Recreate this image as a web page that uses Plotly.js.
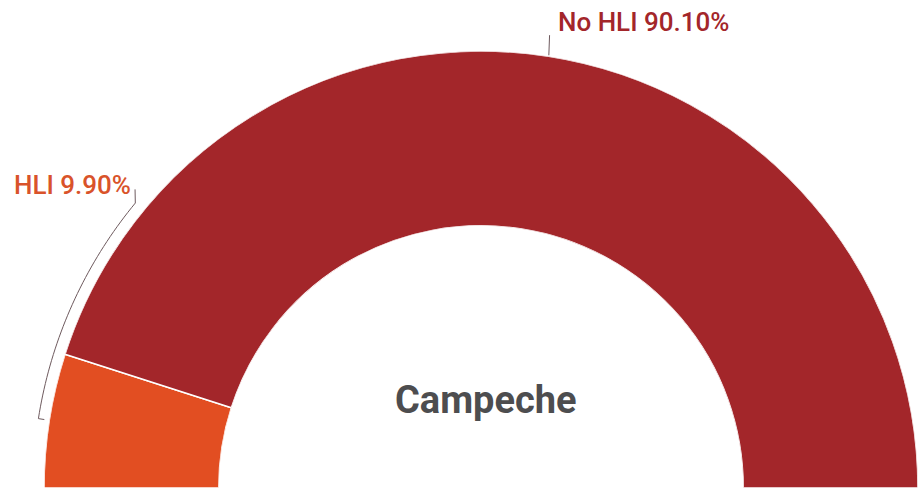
<!DOCTYPE html>
<html>
<head>
<meta charset="utf-8">
<script src="https://cdn.plot.ly/plotly-3.0.1.min.js"></script>
<style>html,body{margin:0;padding:0;background:#fff;}#chart{width:918px;height:490px;}</style>
</head>
<body>
<div id="chart"></div>
<script>
// ---- data ----
const labels = ['HLI', 'No HLI'];
const values = [9.9, 90.1];
const labelTexts = ['HLI 9.90%', 'No HLI 90.10%'];
const centerTitle = 'Campeche';

// ---- styles ----
const colors = ['#E24E22', '#A3262A'];
const labelColors = ['#D9532A', '#A3262A'];
const lineColor = '#6e5a5e';
const W = 918, H = 490;
const R = 437, CX = 44 + R, CY = 488; // pixel geometry of the polar domain

const total = values.reduce((a, b) => a + b, 0);
const spans = values.map(v => v / total * 180);
const centers = [];
let acc = 0;
spans.forEach(s => { centers.push(acc + s / 2); acc += s; });

const traces = [{
  type: 'barpolar',
  r: values.map(() => 1),
  theta: centers,
  width: spans,
  text: labels,
  marker: { color: colors, line: { color: '#ffffff', width: 1.5 } },
  hoverinfo: 'text',
  showlegend: false
}];

// helper: polar (angle from left, clockwise; radius px) -> paper coords
function pt(angDeg, rPx) {
  const a = angDeg * Math.PI / 180;
  return [(CX - rPx * Math.cos(a)) / W, 1 - (CY - rPx * Math.sin(a)) / H];
}
function path(points) {
  return points.map((p, i) => (i ? 'L' : 'M') + p[0].toFixed(5) + ',' + p[1].toFixed(5)).join(' ');
}
// bracket for the small slice
const bracketTop = 39.5;
const bpts = [pt(centers[0], R + 5)];
for (let i = 0; i <= 40; i++) bpts.push(pt(centers[0] + (bracketTop - centers[0]) * i / 40, R + 11));
bpts.push(pt(bracketTop + 1.3, R + 20));
// tick for the big slice
const tpts = [pt(centers[1], R + 1), pt(centers[1] - 0.3, R + 21)];

const layout = {
  width: W, height: H,
  margin: { l: 0, r: 0, t: 0, b: 0 },
  paper_bgcolor: '#ffffff',
  showlegend: false,
  polar: {
    domain: { x: [44 / W, 1], y: [(H - CY) / H, (H - CY + R) / H] },
    sector: [0, 180],
    hole: 0.6,
    bgcolor: 'rgba(0,0,0,0)',
    radialaxis: { range: [0, 1], visible: false, showgrid: false, showline: false, showticklabels: false, ticks: '' },
    angularaxis: { rotation: 180, direction: 'clockwise', thetaunit: 'degrees',
      showgrid: false, showline: false, showticklabels: false, ticks: '' }
  },
  shapes: [
    { type: 'path', xref: 'paper', yref: 'paper', path: path(bpts), line: { color: lineColor, width: 1 } },
    { type: 'path', xref: 'paper', yref: 'paper', path: path(tpts), line: { color: lineColor, width: 1 } }
  ],
  annotations: [
    { text: labelTexts[0], xref: 'paper', yref: 'paper', x: 133 / W, y: 1 - 185 / H,
      xanchor: 'right', yanchor: 'middle', showarrow: false,
      font: { family: 'Roboto', size: 26, color: labelColors[0], weight: 500 } },
    { text: labelTexts[1], xref: 'paper', yref: 'paper', x: 556 / W, y: 1 - 22 / H,
      xanchor: 'left', yanchor: 'middle', showarrow: false,
      font: { family: 'Roboto', size: 26, color: labelColors[1], weight: 500 } },
    { text: centerTitle, xref: 'paper', yref: 'paper', x: 486 / W, y: 1 - 400 / H,
      xanchor: 'center', yanchor: 'middle', showarrow: false,
      font: { family: 'Roboto', size: 38, color: '#4d4d4f', weight: 700 } }
  ]
};

Plotly.newPlot('chart', traces, layout, { displayModeBar: false, staticPlot: true });
</script>
</body>
</html>
